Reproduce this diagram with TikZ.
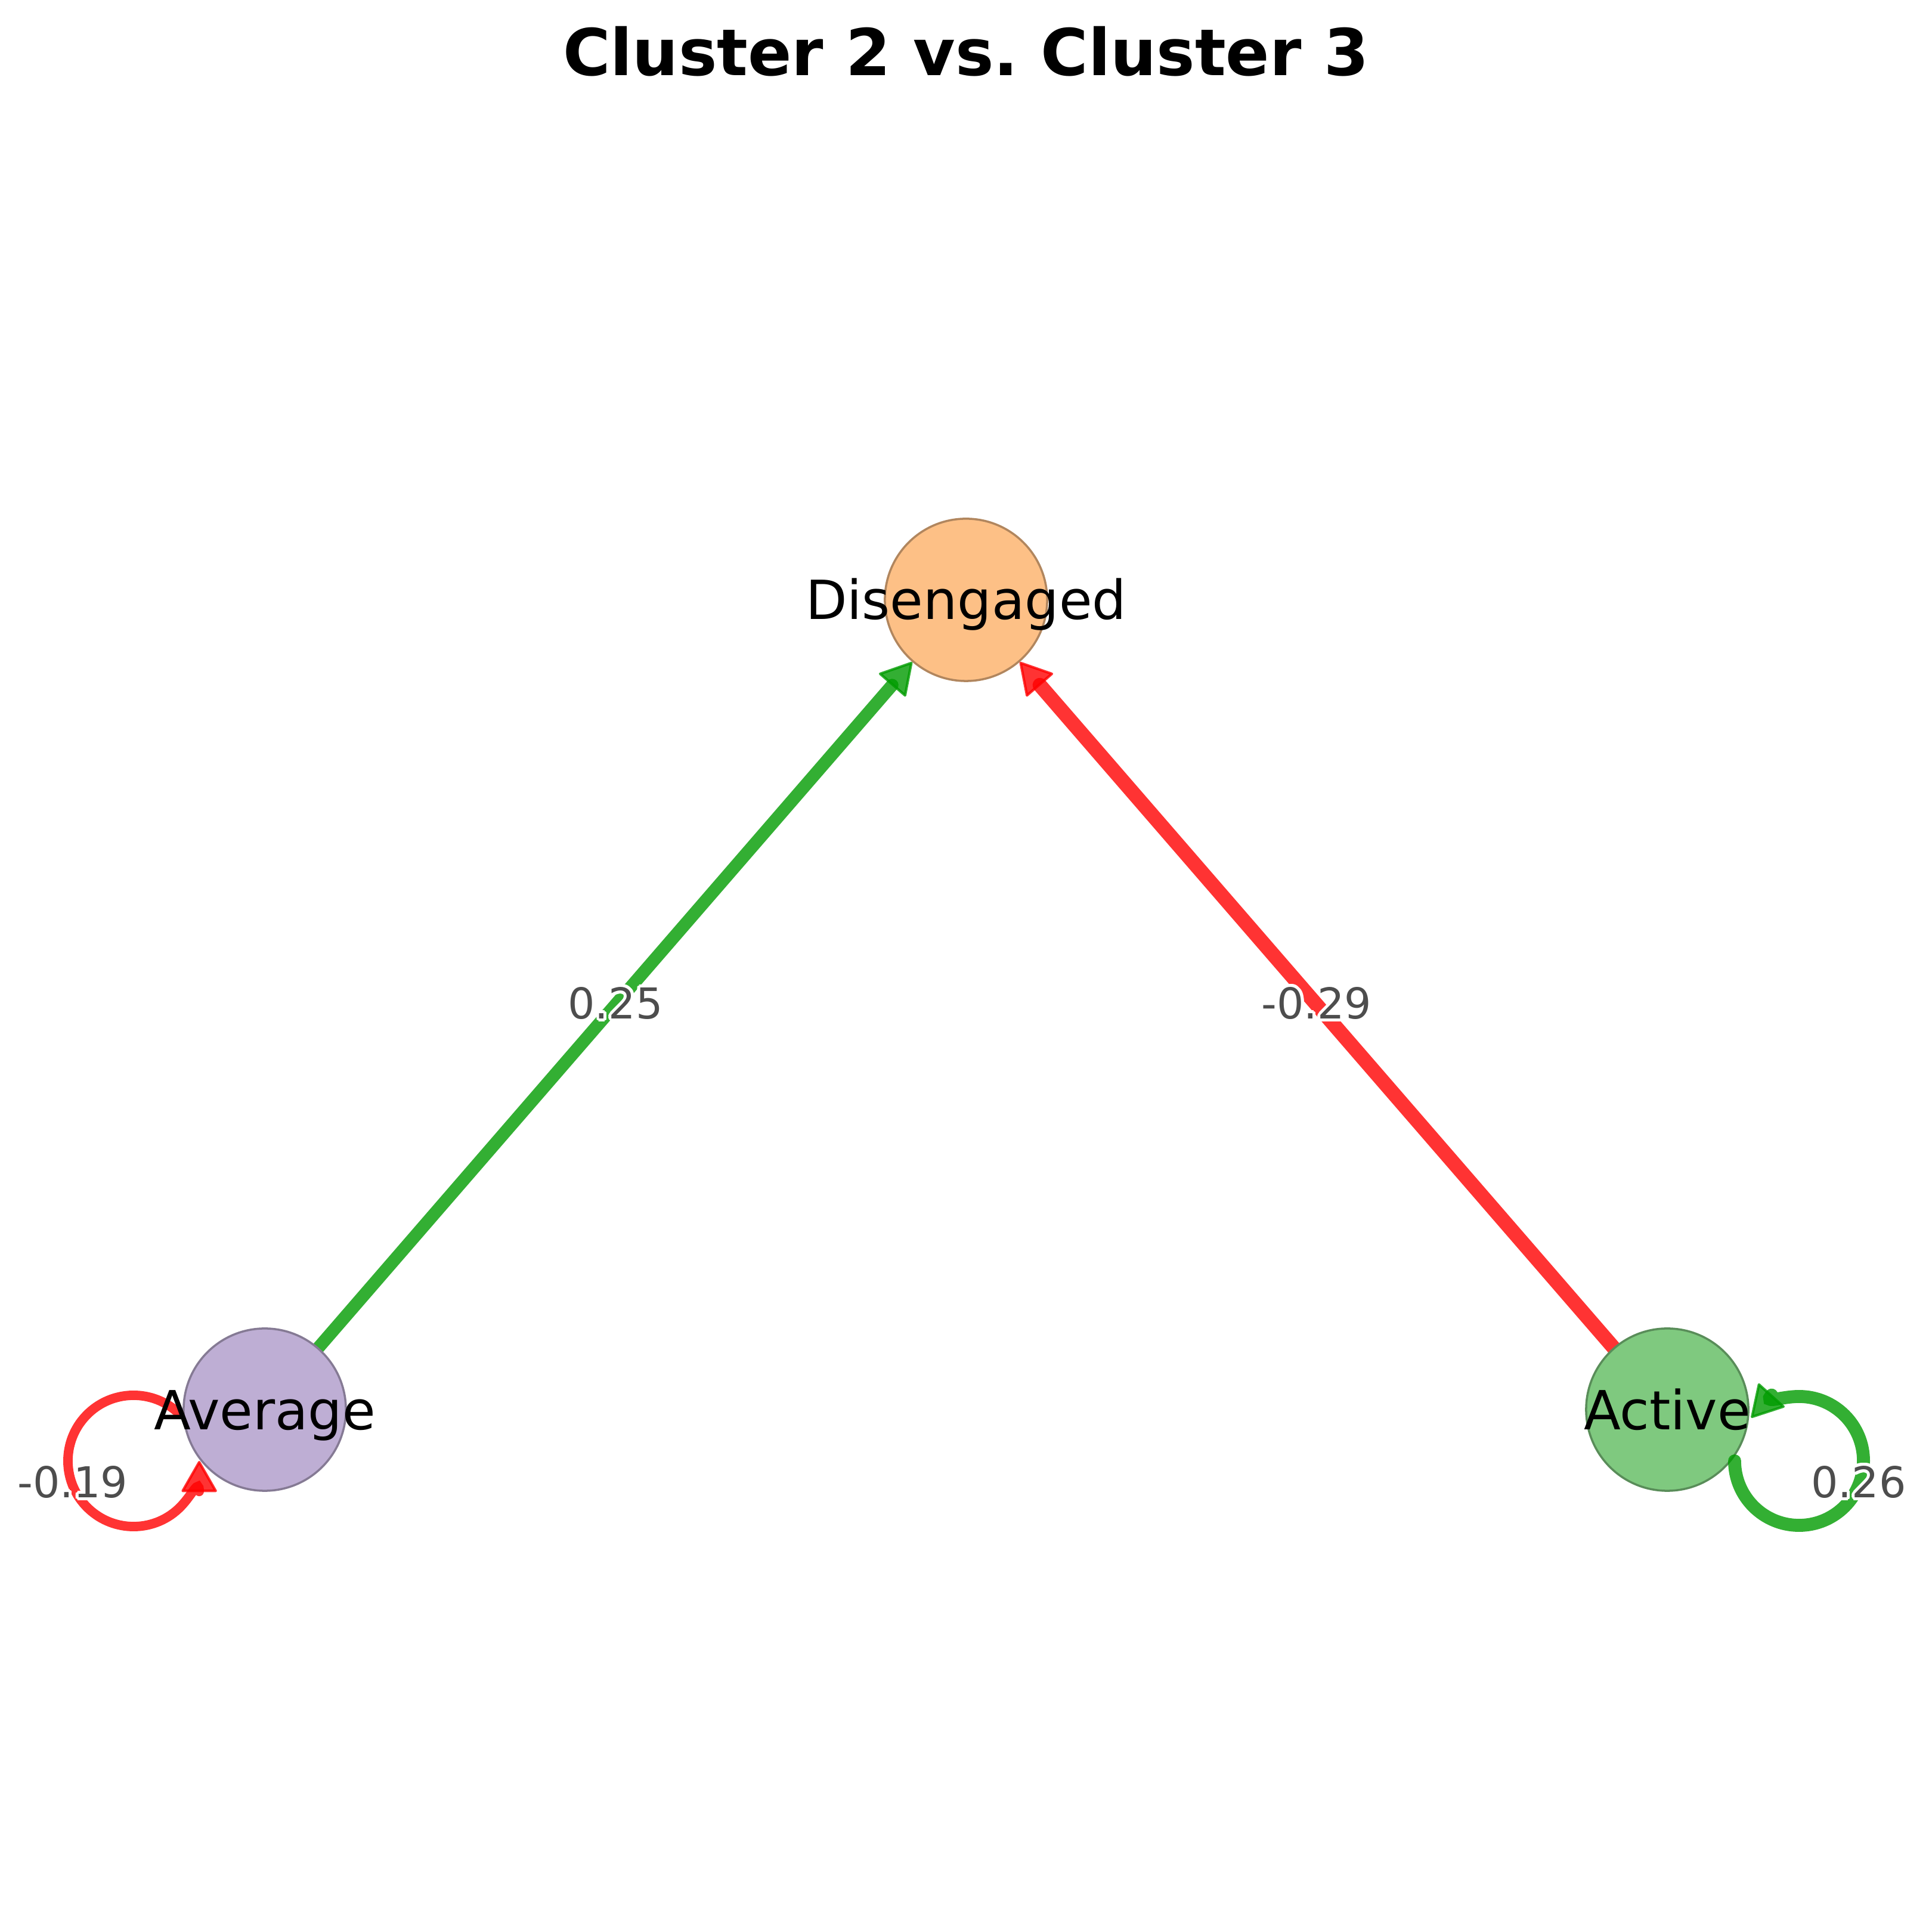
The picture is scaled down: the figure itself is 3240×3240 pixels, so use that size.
\documentclass[tikz,border=0pt]{standalone}
\usepackage{fontspec}
\setmainfont{DejaVu Sans}
\usepackage{contour}
\usetikzlibrary{arrows.meta}
\definecolor{avgfill}{HTML}{BEAED4}
\definecolor{avgline}{RGB}{133,122,148}
\definecolor{disfill}{HTML}{FDC086}
\definecolor{disline}{RGB}{177,134,94}
\definecolor{actfill}{HTML}{7FC97F}
\definecolor{actline}{RGB}{89,141,89}
\definecolor{posedge}{RGB}{0,155,0}
\definecolor{negedge}{RGB}{255,0,0}
\definecolor{wlabel}{RGB}{77,77,77}
\contourlength{1.4pt}
\pgfdeclarelayer{edges}
\pgfsetlayers{edges,main}

\begin{document}
\begin{tikzpicture}[x=0.01cm,y=0.01cm]
	\tikzset{state/.style={draw,circle,line width=1pt,minimum size=2.72cm,inner sep=0pt},
		statetext/.style={anchor=base,inner sep=0pt,font=\fontsize{25.7}{30}\selectfont},
		wedge/.style={opacity=0.8,line cap=round,-{Triangle[length=15.5pt,width=17.5pt,line width=1.2pt,round]}},
		wlab/.style={text=wlabel,inner sep=0pt,font=\fontsize{20.3}{24}\selectfont}}
	\useasboundingbox (0,0) rectangle (3240,3240);
	\node[anchor=base,font=\bfseries\fontsize{30.8}{37}\selectfont] (title) at (1620,3113) {Cluster 2 vs.\ Cluster 3};
	\node[state,fill=disfill,draw=disline] (dis) at (1620,2234) {};
	\node[state,fill=avgfill,draw=avgline] (avg) at (444,876) {};
	\node[state,fill=actfill,draw=actline] (act) at (2796,876) {};
	\coordinate (avgloop) at (224,790);
	\coordinate (actloop) at (3017,790);
	% weighted transitions
	\begin{pgfonlayer}{edges}
		\draw[wedge,posedge,line width=6pt] (avg) -- (dis);
		\draw[wedge,negedge,line width=6.9pt] (act) -- (dis);
	\end{pgfonlayer}
	\draw[wedge,negedge,line width=4.5pt] ([shift={(46:1.1cm)}]avgloop) arc[start angle=46,end angle=360,radius=1.1cm];
	\draw[wedge,posedge,line width=6.2pt] ([shift={(180:1.08cm)}]actloop) arc[start angle=180,end angle=498,radius=1.08cm];
	% labels
	\node[statetext] (distext) at ([yshift=-0.33cm]dis.center) {Disengaged};
	\node[statetext] (avgtext) at ([yshift=-0.33cm]avg.center) {Average};
	\node[statetext] (acttext) at ([yshift=-0.33cm]act.center) {Active};
	\path (avg) -- node[wlab] (w1) {\contour{white}{0.25}} (dis);
	\path (act) -- node[wlab] (w2) {\contour{white}{-0.29}} (dis);
	\node[wlab] (w3) at (122,752) {\contour{white}{-0.19}};
	\node[wlab] (w4) at (3117,752) {\contour{white}{0.26}};
\end{tikzpicture}
\end{document}
